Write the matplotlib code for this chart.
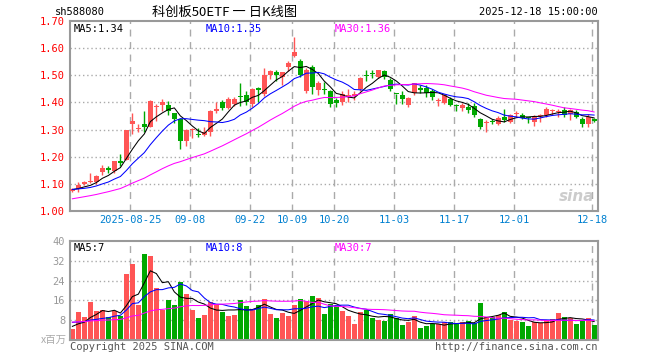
import numpy as np
import pandas as pd
import matplotlib
matplotlib.use("Agg")
import matplotlib.pyplot as plt

plt.rcParams['font.family'] = ['DejaVu Sans Mono', 'Noto Sans CJK SC']

# 日K数据 (2025-08-11 .. 2025-12-18), 读自图
open_ = [1.075, 1.083, 1.101, 1.107, 1.108, 1.145, 1.158, 1.148, 1.183, 1.19,
         1.32, 1.302, 1.322, 1.31, 1.382, 1.392, 1.39, 1.36, 1.34, 1.258,
         1.298, 1.283, 1.281, 1.29, 1.368, 1.40, 1.38, 1.395, 1.421, 1.428,
         1.394, 1.45, 1.43, 1.50, 1.51, 1.495, 1.53, 1.57, 1.553, 1.44,
         1.53, 1.445, 1.448, 1.44, 1.408, 1.402, 1.42, 1.425, 1.448, 1.502,
         1.505, 1.494, 1.515, 1.482, 1.432, 1.427, 1.39, 1.435, 1.45, 1.451,
         1.442, 1.405, 1.399, 1.411, 1.388, 1.378, 1.384, 1.387, 1.338, 1.325,
         1.33, 1.321, 1.348, 1.327, 1.356, 1.355, 1.345, 1.327, 1.35, 1.352,
         1.367, 1.365, 1.372, 1.358, 1.364, 1.34, 1.321, 1.34]
high = [1.085, 1.108, 1.11, 1.14, 1.135, 1.17, 1.165, 1.185, 1.21, 1.30,
        1.36, 1.32, 1.37, 1.41, 1.395, 1.413, 1.406, 1.362, 1.342, 1.302,
        1.305, 1.305, 1.31, 1.372, 1.403, 1.407, 1.418, 1.42, 1.473, 1.44,
        1.452, 1.458, 1.525, 1.52, 1.52, 1.512, 1.552, 1.64, 1.56, 1.525,
        1.536, 1.48, 1.475, 1.445, 1.415, 1.44, 1.45, 1.44, 1.495, 1.52,
        1.52, 1.52, 1.52, 1.49, 1.432, 1.442, 1.42, 1.472, 1.463, 1.463,
        1.45, 1.415, 1.432, 1.418, 1.395, 1.398, 1.396, 1.396, 1.344, 1.336,
        1.338, 1.35, 1.375, 1.358, 1.37, 1.361, 1.348, 1.352, 1.358, 1.382,
        1.376, 1.376, 1.382, 1.375, 1.372, 1.345, 1.357, 1.344]
low = [1.072, 1.072, 1.098, 1.103, 1.102, 1.135, 1.14, 1.14, 1.165, 1.188,
       1.285, 1.29, 1.29, 1.308, 1.33, 1.37, 1.352, 1.325, 1.228, 1.24,
       1.27, 1.273, 1.276, 1.276, 1.36, 1.372, 1.375, 1.385, 1.385, 1.392,
       1.382, 1.40, 1.423, 1.485, 1.48, 1.465, 1.515, 1.565, 1.494, 1.435,
       1.432, 1.428, 1.432, 1.382, 1.382, 1.39, 1.40, 1.41, 1.443, 1.48,
       1.49, 1.49, 1.485, 1.44, 1.394, 1.394, 1.383, 1.428, 1.435, 1.42,
       1.408, 1.385, 1.395, 1.386, 1.367, 1.37, 1.36, 1.348, 1.302, 1.293,
       1.322, 1.318, 1.327, 1.323, 1.348, 1.34, 1.324, 1.315, 1.327, 1.348,
       1.352, 1.345, 1.348, 1.336, 1.342, 1.31, 1.31, 1.327]
close = [1.082, 1.098, 1.106, 1.112, 1.13, 1.16, 1.15, 1.183, 1.179, 1.298,
         1.33, 1.306, 1.308, 1.405, 1.386, 1.402, 1.368, 1.338, 1.258, 1.30,
         1.302, 1.28, 1.29, 1.367, 1.376, 1.381, 1.412, 1.412, 1.418, 1.403,
         1.448, 1.447, 1.50, 1.517, 1.50, 1.51, 1.545, 1.585, 1.50, 1.52,
         1.455, 1.47, 1.446, 1.395, 1.399, 1.43, 1.428, 1.43, 1.49, 1.498,
         1.503, 1.518, 1.494, 1.449, 1.43, 1.411, 1.415, 1.47, 1.447, 1.433,
         1.418, 1.408, 1.427, 1.39, 1.385, 1.39, 1.372, 1.354, 1.309, 1.327,
         1.328, 1.342, 1.336, 1.352, 1.36, 1.343, 1.342, 1.345, 1.353, 1.376,
         1.37, 1.367, 1.354, 1.372, 1.345, 1.319, 1.348, 1.331]
# 成交量 (百万)
volume = [4.4, 11.3, 9.2, 15.3, 11.7, 12.3, 9.2, 11.8, 9.7, 26.5,
          30.6, 14.1, 34.6, 33.8, 20.9, 12.3, 16.1, 14.1, 23.3, 18.5,
          12.1, 8.8, 10.1, 15.3, 14.5, 11.3, 9.7, 10.1, 16.1, 13.7,
          12.1, 14.1, 16.5, 10.5, 8.8, 10.9, 9.7, 14.1, 16.5, 15.7,
          17.7, 16.9, 10.5, 14.7, 13.7, 11.7, 9.7, 6.4, 11.3, 12.2,
          8.8, 8.0, 7.6, 10.5, 8.8, 6.0, 7.2, 9.7, 4.8, 5.6,
          6.4, 6.4, 7.2, 7.2, 6.4, 7.2, 7.6, 6.8, 14.9, 9.2,
          9.2, 10.1, 11.4, 8.2, 7.8, 7.2, 5.6, 7.5, 7.0, 8.2,
          8.5, 10.8, 9.2, 8.8, 6.4, 7.7, 8.8, 6.0]

# 窗口之前的收盘价/成交量, 由左端均线位置反推, 只用于均线
prev_close = [0.985, 0.99, 0.995, 1.0, 1.005, 1.0, 1.01, 1.005, 1.01,
              1.02, 1.03, 1.035, 1.045, 1.05, 1.055, 1.06, 1.065, 1.07, 1.07, 1.08,
              1.075, 1.085, 1.08, 1.075, 1.085, 1.08, 1.075, 1.085, 1.078]
prev_volume = [6.5, 7.0, 8.2, 7.5, 6.8, 7.9, 7.2, 6.6, 8.0, 7.4,
               7.1, 6.9, 7.8, 7.6, 6.8, 7.5, 8.1, 7.0, 7.3, 7.8,
               9.5, 8.2, 9.0, 8.6, 8.7, 6.2, 5.8, 6.0, 5.6]

tick_pos = [10, 20, 30, 37, 44, 54, 64, 74, 87]
tick_lab = ['2025-08-25', '09-08', '09-22', '10-09', '10-20', '11-03', '11-17', '12-01', '12-18']

RED = '#ff5555'
GREEN = '#00a800'
GRID = '#aaaaaa'

n = len(close)
x = np.arange(n)
o = np.array(open_)
c = np.array(close)
colors = [RED if c[i] >= o[i] else GREEN for i in range(n)]

cs = pd.Series(prev_close + close)
vs = pd.Series(prev_volume + volume)
k = len(prev_close)
ma = {m: cs.rolling(m).mean().values[k:] for m in (5, 10, 30)}
vma = {m: vs.rolling(m).mean().values[k:] for m in (5, 10, 30)}
ma_col = {5: 'black', 10: '#0000ff', 30: '#ff00ff'}

W, H = 660, 360
fig = plt.figure(figsize=(6.6, 3.6), dpi=100)
ax = fig.add_axes([70 / W, 1 - 211.3 / H, 527.7 / W, 190.6 / H])
axv = fig.add_axes([70 / W, 1 - 340.3 / H, 527.7 / W, 99.6 / H])

for a in (ax, axv):
    a.set_xlim(-0.4, 87.6)
    for s in a.spines.values():
        s.set_color('#999999')
        s.set_linewidth(1.5)
    for t in tick_pos:
        a.axvline(t - 0.35, color=GRID, lw=1, ls=(0, (5, 4)), zorder=0)
    a.tick_params(length=0, labelsize=7.5)

# K线
ax.set_ylim(1.0, 1.7)
for yv in np.arange(1.1, 1.65, 0.1):
    ax.axhline(yv, color=GRID, lw=1, ls=(0, (1, 2)), zorder=0)
ax.vlines(x, low, high, colors=colors, lw=1, zorder=2)
body = np.maximum(np.abs(c - o), 0.004)
ax.bar(x, body, bottom=np.minimum(o, c), width=0.8, color=colors, zorder=3)
for m in (5, 10, 30):
    ax.plot(x, ma[m], color=ma_col[m], lw=0.75, zorder=4)

ax.set_yticks(np.arange(1.0, 1.71, 0.1))
ax.set_yticklabels([f'{v:.2f}' for v in np.arange(1.0, 1.71, 0.1)], color='#ff0000')
ax.set_xticks([t - 0.35 for t in tick_pos])
ax.set_xticklabels(tick_lab, color='#0080d0')
ax.tick_params(axis='x', pad=3)

ax.text(0.006, 0.985, f'MA5:{ma[5][-1]:.2f}', transform=ax.transAxes, va='top', fontsize=7.5, color='black')
ax.text(0.257, 0.985, f'MA10:{ma[10][-1]:.2f}', transform=ax.transAxes, va='top', fontsize=7.5, color='#0000ff')
ax.text(0.502, 0.985, f'MA30:{ma[30][-1]:.2f}', transform=ax.transAxes, va='top', fontsize=7.5, color='#ff00ff')
ax.text(0.993, 0.04, 'sina', transform=ax.transAxes, ha='right', va='bottom', fontsize=11,
        fontstyle='italic', fontweight='bold', family='DejaVu Sans', color='#c0c0c0', alpha=0.8)

# 成交量
axv.set_ylim(0, 40)
for yv in (8, 16, 24, 32):
    axv.axhline(yv, color=GRID, lw=1, ls=(0, (1, 2)), zorder=0)
axv.bar(x, volume, width=0.82, color=colors, zorder=2)
for m in (5, 10, 30):
    axv.plot(x, vma[m], color=ma_col[m], lw=0.75, zorder=3)
axv.set_yticks([8, 16, 24, 32, 40])
axv.set_yticklabels(['8', '16', '24', '32', '40'], color='#999999')
axv.set_xticks([])

axv.text(0.006, 0.975, f'MA5:{int(vma[5][-1])}', transform=axv.transAxes, va='top', fontsize=7.5, color='black')
axv.text(0.257, 0.975, f'MA10:{int(vma[10][-1])}', transform=axv.transAxes, va='top', fontsize=7.5, color='#0000ff')
axv.text(0.502, 0.975, f'MA30:{int(vma[30][-1])}', transform=axv.transAxes, va='top', fontsize=7.5, color='#ff00ff')

# 页眉页脚
fig.text(55 / W, 1 - 12 / H, 'sh588080', fontsize=7.5, va='center', color='black')
fig.text(225 / W, 1 - 12 / H, '科创板50ETF 一 日K线图', fontsize=9.5, ha='center', va='center',
         family=['Noto Sans CJK SC', 'DejaVu Sans'], color='black')
fig.text(598 / W, 1 - 12 / H, '2025-12-18 15:00:00', fontsize=7.5, ha='right', va='center', color='black')
fig.text(67 / W, 1 - 340 / H, 'x百万', fontsize=7.5, ha='right', va='center',
         family=['Noto Sans CJK SC', 'DejaVu Sans'], color='#aaaaaa')
fig.text(70 / W, 1 - 347 / H, 'Copyright 2025 SINA.COM', fontsize=7.5, va='center', color='#555555')
fig.text(598 / W, 1 - 347 / H, 'http://finance.sina.com.cn', fontsize=7.5, ha='right', va='center', color='#555555')

fig.savefig('out.png', dpi=100)
